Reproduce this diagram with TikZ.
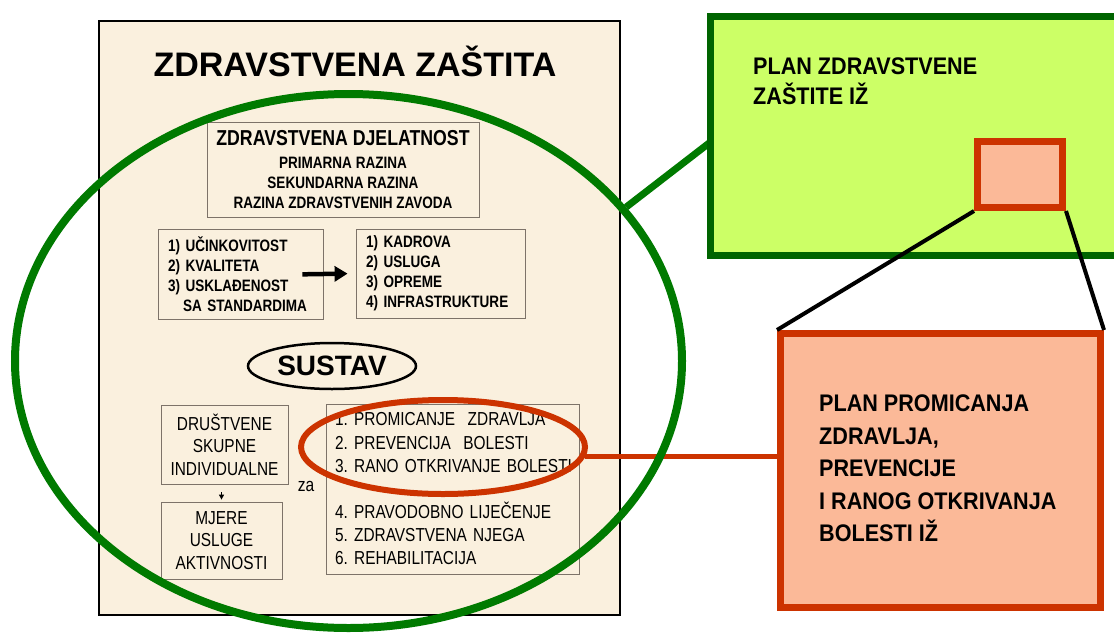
\documentclass[tikz,border=0pt]{standalone}
\usepackage{fontspec}
\setmainfont{Liberation Sans}
\newfontfamily\narrowfont[FakeStretch=0.82]{Liberation Sans}
\newfontfamily\planfont[FakeStretch=0.9]{Liberation Sans}
\usetikzlibrary{shapes.geometric,arrows.meta}
\frenchspacing
\definecolor{parchment}{RGB}{250,240,222}
\definecolor{boxGray}{RGB}{125,115,105}
\definecolor{ellGreen}{RGB}{0,122,0}
\definecolor{limeFill}{RGB}{204,255,102}
\definecolor{limeBorder}{RGB}{0,100,0}
\definecolor{rust}{RGB}{204,51,0}
\definecolor{salmon}{RGB}{251,185,152}
\tikzset{
  panel/.style={rectangle, draw, line width=2pt, fill=parchment},
  innerBox/.style={rectangle, draw=boxGray, line width=0.8pt},
  boldList/.style={innerBox, align=left, inner xsep=10pt, text width=145pt,
    font=\narrowfont\bfseries\fontsize{16.5}{20}\selectfont},
  plainList/.style={innerBox, align=center, inner sep=0pt,
    font=\narrowfont\fontsize{18.8}{22.5}\selectfont},
  ringGreen/.style={ellipse, draw=ellGreen, line width=8pt, inner sep=0pt},
  ringRed/.style={ellipse, draw=rust, line width=6pt, inner sep=0pt},
  planBox/.style={rectangle, draw=limeBorder, line width=7pt, fill=limeFill},
  zoomBox/.style={rectangle, draw=rust, line width=7pt, fill=salmon},
  planText/.style={align=left, inner sep=0pt, anchor=north west},
  link/.style={line width=4pt},
  fatArrow/.style={-{Triangle[length=13pt,width=15pt]}, line width=4.5pt},
  thinArrow/.style={-{Triangle[length=5pt,width=5pt]}, line width=1pt}
}
\begin{document}
\begin{tikzpicture}[x=1pt, y=-1pt]
  \path[use as bounding box, fill=white] (0,0) rectangle (1114,635);
  \clip (0,0) rectangle (1114,635);
  % left panel
  \node[panel, minimum width=521pt, minimum height=594pt] (panel) at (359.5,318) {};
  \node[font=\bfseries\fontsize{34}{36}\selectfont] (title) at (355,61) {ZDRAVSTVENA ZAŠTITA};
  \node[innerBox, minimum width=272pt, minimum height=95pt, align=center,
        font=\narrowfont\bfseries\fontsize{16.5}{20}\selectfont] (djelatnost) at (343,169.5)
    {{\fontsize{21.6}{23}\selectfont ZDRAVSTVENA DJELATNOST}\\[3pt]
     PRIMARNA RAZINA\\ SEKUNDARNA RAZINA\\ RAZINA ZDRAVSTVENIH ZAVODA};
  \node[boldList, minimum height=90pt] (effect) at (240.5,274)
    {1) UČINKOVITOST\\ 2) KVALITETA\\ 3) USKLAĐENOST\\ \hspace*{15pt}SA STANDARDIMA};
  \node[boldList, text width=149pt, minimum height=89pt] (resource) at (440.5,273.5)
    {1) KADROVA\\ 2) USLUGA\\ 3) OPREME\\ 4) INFRASTRUKTURE};
  \draw[fatArrow, shorten <=-21pt, shorten >=8pt] (effect.east) -- (resource.west);
  \node[ellipse, draw, line width=2.5pt, inner sep=0pt, minimum width=168pt, minimum height=46pt,
        font=\bfseries\fontsize{28}{30}\selectfont] (sustav) at (332,366) {SUSTAV};
  \node[plainList, minimum width=127pt, minimum height=79pt] (drustv) at (224.5,444.5)
    {DRUŠTVENE\\ SKUPNE\\ INDIVIDUALNE};
  \node[plainList, minimum width=121pt, minimum height=77pt] (mjere) at (221.5,540.5)
    {MJERE\\ USLUGE\\ AKTIVNOSTI};
  \draw[thinArrow, shorten <=8pt, shorten >=2pt] (mjere.north |- drustv.south) -- (mjere.north);
  \node[font=\narrowfont\fontsize{19}{22}\selectfont] (zaLabel) at (306,486) {za};
  \node[innerBox, align=left, inner xsep=9pt, text width=235pt, minimum height=170pt,
        font=\narrowfont\fontsize{18.8}{23.4}\selectfont] (activities) at (452.5,489)
    {\mbox{1. PROMICANJE\ \ ZDRAVLJA}\\ \mbox{2. PREVENCIJA\ \ BOLESTI}\\
     \mbox{3. RANO OTKRIVANJE BOLESTI}\\[22pt]
     \mbox{4. PRAVODOBNO LIJEČENJE}\\ \mbox{5. ZDRAVSTVENA NJEGA}\\ \mbox{6. REHABILITACIJA}};
  \node[ringRed, minimum width=284pt, minimum height=94pt] (redEll) at (443,447) {};
  % right side
  \node[zoomBox, minimum width=320pt, minimum height=274pt] (bigBox) at (940.5,470.5) {};
  \draw[rust, line width=5pt] (redEll.-4) -- (redEll.-4 -| bigBox.west);
  \node[ringGreen, minimum width=667pt, minimum height=534pt] (greenEll) at (348.5,361) {};
  \draw[ellGreen, line width=7pt] (greenEll.29) -- ([yshift=-6pt]710.5,136);
  \node[planBox, minimum width=409.5pt, minimum height=239pt] (planBox) at (915.25,136) {};
  \node[zoomBox, minimum width=85pt, minimum height=66pt] (smallBox) at (1020,174.5) {};
  \draw[link] (smallBox.south west) -- (bigBox.north west);
  \draw[link] (smallBox.south east) -- (bigBox.north east);
  \node[planText, font=\planfont\bfseries\fontsize{24}{30}\selectfont] (planTitle) at (753,58)
    {PLAN ZDRAVSTVENE\\ ZAŠTITE IŽ};
  \node[planText, font=\planfont\bfseries\fontsize{24}{32.5}\selectfont] (zoomTitle) at (819,395)
    {PLAN PROMICANJA\\ ZDRAVLJA,\\ PREVENCIJE\\ I RANOG OTKRIVANJA\\ BOLESTI IŽ};
\end{tikzpicture}
\end{document}
